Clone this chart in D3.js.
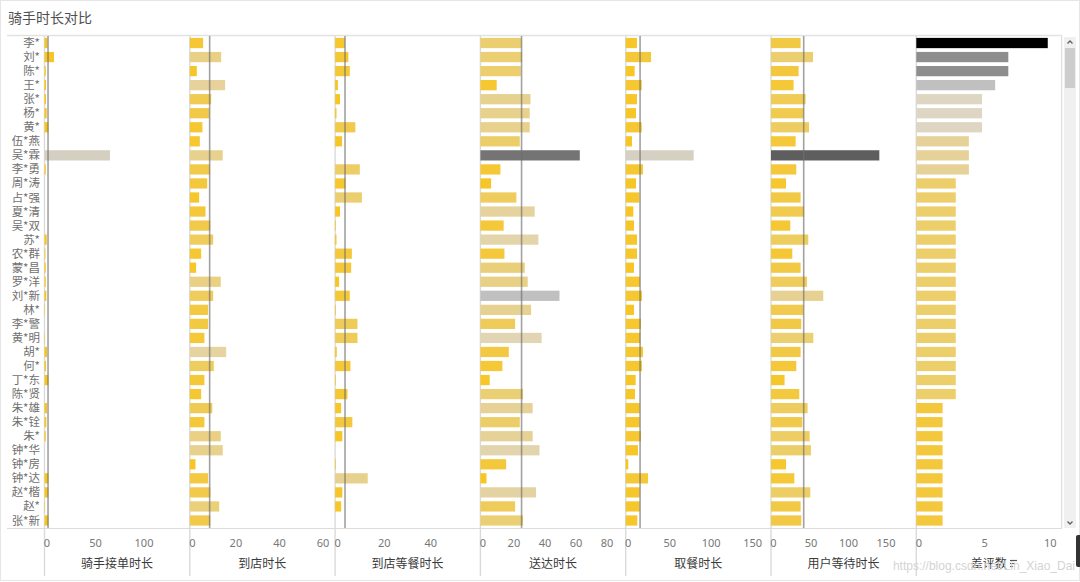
<!DOCTYPE html>
<html><head><meta charset="utf-8">
<script src="https://cdn.jsdelivr.net/npm/d3@7"></script>
<style>
body{margin:0;background:#fff;}
svg{display:block;font-family:"Noto Sans CJK SC","Noto Sans",sans-serif;}
</style>
</head><body>
<svg id="chart" width="1080" height="582"></svg>
<script>
const chartTitle = "骑手时长对比";
const riders = ["李*","刘*","陈*","王*","张*","杨*","黄*","伍*燕","吴*霖","李*勇","周*涛","占*强","夏*清","吴*双","苏*","农*群","蒙*昌","罗*洋","刘*新","林*","李*警","黄*明","胡*","何*","丁*东","陈*贤","朱*雄","朱*铨","朱*","钟*华","钟*房","钟*达","赵*楷","赵*","张*新"];
const metricNames = ["骑手接单时长","到店时长","到店等餐时长","送达时长","取餐时长","用户等待时长","差评数"];
const acceptTime   = [3.0,9.8,1.3,1.6,1.6,2.3,4.0,0,67.5,1.3,0,0,0,0,2.3,0.9,1.3,1.3,1.9,0.5,0,0.5,2.6,1.6,4.0,0,2.6,1.9,1.3,0,0,4.0,4.0,0.5,4.0];
const arriveTime   = [6.1,14.4,3.2,16.2,9.8,8.9,5.8,4.6,15.1,9.2,8.0,4.3,7.2,9.4,10.7,5.2,2.9,14.2,10.7,8.4,8.4,6.7,16.7,11.0,6.7,5.2,10.3,6.7,14.2,15.1,2.6,8.4,9.4,13.5,9.4];
const storeWait    = [4.2,5.7,6.3,1.2,2.1,0.6,8.7,3.0,0,10.6,4.4,11.5,2.1,0.3,0.6,7.2,6.9,1.7,6.3,0.3,9.6,9.6,0.7,6.6,0.3,5.3,2.6,7.4,3.1,0,0.3,14.0,3.1,2.6,0];
const deliveryTime = [26.5,26.9,26.0,10.5,32.3,31.8,31.8,25.4,64.1,12.9,6.9,23.2,35.0,15.0,37.4,15.5,28.6,30.5,51.0,32.7,22.4,39.5,18.3,14.2,6.0,27.5,33.7,25.4,33.7,38.1,16.6,3.9,35.9,22.4,27.5];
const pickupTime   = [13.6,30.5,10.8,19.3,13.6,12.4,19.3,7.6,81.9,20.8,12.4,16.4,9.2,10.0,13.6,13.6,10.0,17.2,19.6,10.0,18.4,17.6,20.8,19.6,12.0,11.2,16.9,16.9,18.4,14.8,3.1,26.9,16.9,16.9,14.0];
const userWaitTime = [39.5,56.0,36.8,30.1,46.1,43.5,50.7,32.8,144.4,33.7,20.0,39.5,44.0,25.7,49.7,28.4,39.5,48.0,69.7,43.1,40.4,56.4,39.5,33.7,18.1,37.7,48.8,41.7,51.5,53.3,20.0,31.1,52.4,39.5,40.4];
const badReviews   = [10,7,7,6,5,5,5,4,4,4,3,3,3,3,3,3,3,3,3,3,3,3,3,3,3,3,2,2,2,2,2,2,2,2,2];
const tickValues = [[0,50,100],[0,20,40,60],[0,20,40],[0,20,40,60,80],[0,50,100,150],[0,50,100,150],[0,5,10]];
const axisMax = [149.5,66.5,62.2,93.5,174.7,193.3,11.03];
const showAverage = [true,true,true,true,true,true,false];
const watermark = "https://blog.csdn.net/Lin_Xiao_Dai";

const series = [acceptTime, arriveTime, storeWait, deliveryTime, pickupTime, userWaitTime, badReviews];
const colorMax = [127, 40, 37, 85, 155, 180, 10];

const svg = d3.select("#chart");
const W = 1080, H = 582;

// frame
svg.append("rect").attr("x",0.5).attr("y",0.5).attr("width",W-1).attr("height",H-2)
  .attr("fill","#fff").attr("stroke","#e6e6e6");

svg.append("text").attr("x",8).attr("y",23).attr("font-size",14).attr("fill","#505050").text(chartTitle);
svg.append("line").attr("x1",7).attr("x2",1062).attr("y1",35.5).attr("y2",35.5)
  .attr("stroke","#e2e2e2").attr("stroke-width",1.5);

const plotTop = 36, plotBottom = 527.5;
const y = d3.scaleBand().domain(riders).range([plotTop, plotBottom]).paddingInner(0.27).paddingOuter(0.135);

// rider labels
svg.append("g").selectAll("text").data(riders).join("text")
  .attr("x",40).attr("y",d=>y(d)+y.bandwidth()/2).attr("dy","0.35em")
  .attr("text-anchor","end").attr("font-size",11.5).attr("fill","#707070").text(d=>d);

const stops = [0,0.2,0.3,0.4,0.5,0.6,0.7,1];
const stopColors = ["#f8c51c","#f4c83c","#ecce6a","#e6d298","#ded6c3","#c0c0c0","#8e8e8e","#000000"];
const colorT = d3.scaleLinear().domain(stops).range(stopColors).interpolate(d3.interpolateRgb).clamp(true);

const panelStep = 145.3, firstZero = 44.5, panelW = 145;

// plot borders
svg.append("line").attr("x1",7).attr("x2",1062).attr("y1",528.5).attr("y2",528.5).attr("stroke","#dcdcdc").attr("stroke-width",1.2);
svg.append("line").attr("x1",1061.7).attr("x2",1061.7).attr("y1",36).attr("y2",528.5).attr("stroke","#dcdcdc").attr("stroke-width",1.2);

series.forEach((vals,i)=>{
  const x0 = firstZero + i*panelStep;
  const x = d3.scaleLinear().domain([0, axisMax[i]]).range([x0, x0+panelW]);
  const g = svg.append("g");
  // separator / zero line
  g.append("line").attr("x1",x0).attr("x2",x0).attr("y1",36).attr("y2",576)
    .attr("stroke","#dadada").attr("stroke-width",1.4);
  g.selectAll("rect.bar").data(vals).join("rect").attr("class","bar")
    .attr("x",x(0)).attr("y",(d,j)=>y(riders[j]))
    .attr("width",d=>Math.max(0,x(d)-x(0))).attr("height",y.bandwidth())
    .attr("fill",d=>colorT(d/colorMax[i]));
  if(showAverage[i]){
    const m = d3.mean(vals);
    g.append("line").attr("x1",x(m)).attr("x2",x(m)).attr("y1",36).attr("y2",528)
      .attr("stroke","#6e6e6e").attr("stroke-opacity",0.65).attr("stroke-width",1.6);
  }
  // axis
  const ax = d3.axisBottom(x).tickValues(tickValues[i]).tickSize(0).tickPadding(0);
  const axg = svg.append("g").attr("transform","translate(2,539)").call(ax);
  axg.select(".domain").remove();
  axg.selectAll("text").attr("font-size",11).attr("fill","#777").attr("font-family",'"Noto Sans","Noto Sans CJK SC",sans-serif');
  // title
  const cx = x0 + panelW/2;
  svg.append("text").attr("x",cx).attr("y",568).attr("text-anchor","middle")
    .attr("font-size",12).attr("fill","#3a3a3a").text(metricNames[i]);
});

// sort icon near last title
const ix = 1010, iy = 560;
[[0,7],[3,5],[6,3]].forEach(([dy,w])=>{
  svg.append("line").attr("x1",ix).attr("x2",ix+w).attr("y1",iy+dy+0.5).attr("y2",iy+dy+0.5)
    .attr("stroke","#555").attr("stroke-width",1.2);
});

// watermark
svg.append("text").attr("x",1075).attr("y",570).attr("text-anchor","end")
  .attr("font-size",12).attr("fill","#d4d4d4").attr("font-family","Arial, Liberation Sans, sans-serif").text(watermark);

// scrollbar
svg.append("rect").attr("x",1064).attr("y",37).attr("width",12).attr("height",491).attr("fill","#f0f0f0");
svg.append("rect").attr("x",1065).attr("y",48).attr("width",10).attr("height",40).attr("fill","#cdcdcd");
svg.append("path").attr("d","M1067.5,43.5 L1070,41 L1072.5,43.5").attr("fill","none").attr("stroke","#606060").attr("stroke-width",1.3);
svg.append("path").attr("d","M1067.5,521.5 L1070,524 L1072.5,521.5").attr("fill","none").attr("stroke","#606060").attr("stroke-width",1.3);
svg.append("rect").attr("x",1076).attr("y",535).attr("width",6).attr("height",32).attr("rx",2).attr("fill","#333");
</script>
</body></html>
